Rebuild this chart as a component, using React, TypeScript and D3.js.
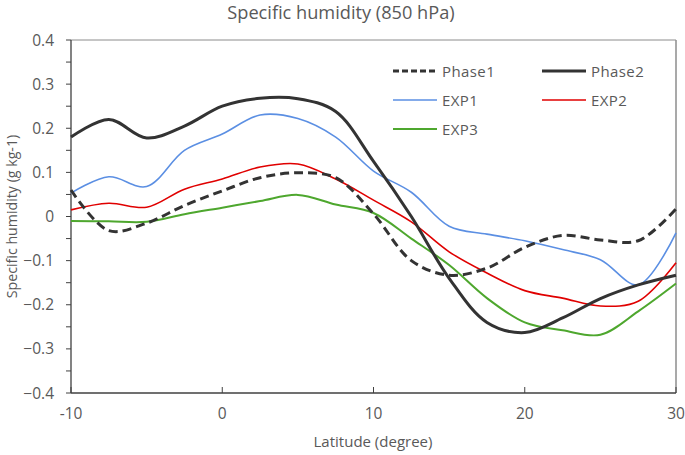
import React from "react";
import * as d3 from "d3";

const lats = [-10, -7.5, -5, -2.5, 0, 2.5, 5, 7.5, 10, 12.5, 15, 17.5, 20, 22.5, 25, 27.5, 30];
const phase1 = [0.06, -0.032, -0.015, 0.025, 0.058, 0.088, 0.099, 0.088, 0.006, -0.1, -0.133, -0.117, -0.07, -0.043, -0.053, -0.055, 0.017];
const phase2 = [0.18, 0.22, 0.178, 0.205, 0.25, 0.268, 0.267, 0.238, 0.125, 0.0, -0.14, -0.24, -0.263, -0.23, -0.186, -0.155, -0.133];
const exp1 = [0.053, 0.09, 0.068, 0.15, 0.187, 0.23, 0.222, 0.18, 0.103, 0.055, -0.022, -0.04, -0.055, -0.075, -0.098, -0.155, -0.037];
const exp2 = [0.015, 0.03, 0.021, 0.062, 0.085, 0.112, 0.119, 0.085, 0.037, -0.012, -0.08, -0.128, -0.168, -0.185, -0.203, -0.192, -0.105];
const exp3 = [-0.01, -0.011, -0.012, 0.005, 0.02, 0.035, 0.049, 0.027, 0.008, -0.05, -0.11, -0.185, -0.24, -0.258, -0.268, -0.215, -0.152];

const xTicks = [-10, 0, 10, 20, 30];
const yTicks = [0.4, 0.3, 0.2, 0.1, 0, -0.1, -0.2, -0.3, -0.4];
const yMinorTicks = d3.range(-0.4, 0.4001, 0.05);

const series = [
  { name: "Phase1", values: phase1, color: "#333333", width: 3, dash: "9,5" },
  { name: "Phase2", values: phase2, color: "#333333", width: 3, dash: undefined },
  { name: "EXP1", values: exp1, color: "#5B8FE3", width: 1.6, dash: undefined },
  { name: "EXP2", values: exp2, color: "#E00000", width: 1.6, dash: undefined },
  { name: "EXP3", values: exp3, color: "#4EA72E", width: 2, dash: undefined },
];

const W = 685, H = 455;
const L = 71, R = 676, T = 40, B = 393;
const FONT = "'Open Sans', 'Noto Sans', sans-serif";
const TXT = "#595959";

export default function App() {
  const x = d3.scaleLinear().domain([-10, 30]).range([L, R]);
  const y = d3.scaleLinear().domain([-0.4, 0.4]).range([B, T]);
  const line = d3
    .line<number>()
    .x((_, i) => x(lats[i]))
    .y((d) => y(d))
    .curve(d3.curveCatmullRom.alpha(0.5));

  const legendPos = [
    { lx: 393, ly: 71 },
    { lx: 542, ly: 71 },
    { lx: 393, ly: 100 },
    { lx: 542, ly: 100 },
    { lx: 393, ly: 129 },
  ];

  return (
    <svg width={W} height={H} style={{ position: "absolute", left: 0, top: 0, background: "#fff" }}>
      <rect x={0} y={0} width={W} height={H} fill="#fff" />
      <text x={341} y={19} textAnchor="middle" fontFamily={FONT} fontSize={18.2} fill={TXT}>
        Specific humidity (850 hPa)
      </text>
      {/* frame */}
      <line x1={L} x2={R} y1={T} y2={T} stroke="#8c8c8c" strokeWidth={1} />
      <line x1={R} x2={R} y1={T} y2={B} stroke="#8c8c8c" strokeWidth={1.5} />
      {/* axes */}
      <line x1={L} x2={L} y1={T} y2={B} stroke="#404040" strokeWidth={1.3} />
      <line x1={L} x2={R} y1={B} y2={B} stroke="#404040" strokeWidth={1.3} />
      {yMinorTicks.map((t, i) => (
        <line key={"ym" + i} x1={L - 5} x2={L} y1={y(t)} y2={y(t)} stroke="#404040" strokeWidth={1} />
      ))}
      {xTicks.map((t) => (
        <line key={"xt" + t} x1={x(t)} x2={x(t)} y1={B} y2={B - 6} stroke="#404040" strokeWidth={1} />
      ))}
      {yTicks.map((t) => (
        <text key={"yl" + t} x={L - 17} y={y(t) + 5.5} textAnchor="end" fontFamily={FONT} fontSize={15.5} fill={TXT}>
          {d3.format("")(+t.toFixed(1))}
        </text>
      ))}
      {xTicks.map((t) => (
        <text key={"xl" + t} x={x(t)} y={419} textAnchor="middle" fontFamily={FONT} fontSize={15.5} fill={TXT}>
          {t}
        </text>
      ))}
      <text x={373} y={447} textAnchor="middle" fontFamily={FONT} fontSize={15} fill={TXT}>
        Latitude (degree)
      </text>
      <text
        transform={`translate(17,${(T + B) / 2}) rotate(-90)`}
        textAnchor="middle"
        fontFamily={FONT}
        fontSize={14.2}
        fill={TXT}
      >
        Specific humidity (g kg-1)
      </text>
      {/* series (draw order: colored first, then black) */}
      {[2, 3, 4, 0, 1].map((k) => {
        const s = series[k];
        return (
          <path
            key={s.name}
            d={line(s.values) || ""}
            fill="none"
            stroke={s.color}
            strokeWidth={s.width}
            strokeDasharray={s.dash}
            strokeLinejoin="round"
          />
        );
      })}
      {/* legend */}
      {series.map((s, i) => {
        const p = legendPos[i];
        return (
          <g key={"lg" + s.name}>
            <line x1={p.lx} x2={p.lx + 44} y1={p.ly} y2={p.ly} stroke={s.color} strokeWidth={s.width} strokeDasharray={s.dash ? "6,3" : undefined} />
            <text x={p.lx + 49} y={p.ly + 5.5} fontFamily={FONT} fontSize={15} letterSpacing={0.4} fill={TXT}>
              {s.name}
            </text>
          </g>
        );
      })}
    </svg>
  );
}
